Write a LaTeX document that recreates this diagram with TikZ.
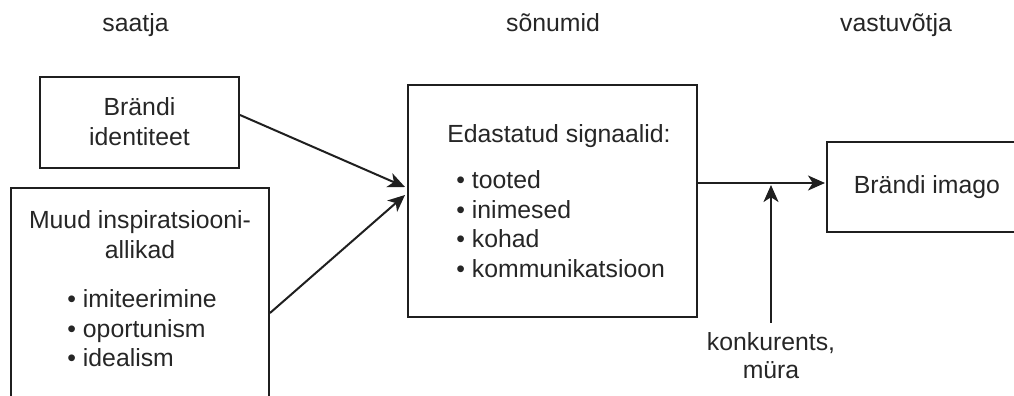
\documentclass[tikz,border=0pt]{standalone}
\usepackage{fontspec}
\setmainfont{Liberation Sans}
\usetikzlibrary{arrows.meta}
\begin{document}
\begin{tikzpicture}[x=0.5pt,y=-0.5pt,
  box/.style={draw=black!88,line width=1pt,minimum width=#1,inner sep=0pt},
  txt/.style={inner sep=0pt,anchor=base,text=black!85,font=\fontsize{12.4}{15}\selectfont},
  txtl/.style={txt,anchor=base west},
  arr/.style={draw=black!88,line width=1pt,-{Stealth[length=8.5pt,width=7.5pt,inset=2.4pt]}}]
\useasboundingbox (0,0) rectangle (1014,396);
\clip (0,0) rectangle (1014,396);
% headers
\node[txt] (h1) at (135.5,32) {saatja};
\node[txt] (h2) at (553,32) {sõnumid};
\node[txt] (h3) at (896,32) {vastuvõtja};
% boxes
\node[box=99.5pt,minimum height=45.5pt] (b1) at (139.5,122.5) {};
\node[box=129pt,minimum height=116pt] (b2) at (140,304) {};
\node[box=144.5pt,minimum height=116pt] (b3) at (552.5,201) {};
\node[box=106.5pt,minimum height=45pt] (b4) at (933.5,187) {};
% box texts
\node[txt] (t11) at (139.5,115) {Brändi};
\node[txt] (t12) at (139.5,145) {identiteet};
\node[txt] (t21) at (140,228) {Muud inspiratsiooni-};
\node[txt] (t22) at (140,258) {allikad};
\node[txtl] (t23) at (67,307) {• imiteerimine};
\node[txtl] (t24) at (67,337) {• oportunism};
\node[txtl] (t25) at (67,366) {• idealism};
\node[txt] (t31) at (559,142) {Edastatud signaalid:};
\node[txtl] (t32) at (456,188) {• tooted};
\node[txtl] (t33) at (456,218) {• inimesed};
\node[txtl] (t34) at (456,247) {• kohad};
\node[txtl] (t35) at (456,277) {• kommunikatsioon};
\node[txt] (t41) at (927,193) {Brändi imago};
\node[txt] (n1) at (771,350) {konkurents,};
\node[txt] (n2) at (771,378) {müra};
% connectors
\draw[arr] ([yshift=3.75pt]b1.east) -- ([xshift=-1pt,yshift=7pt]b3.west);
\draw[arr] ([yshift=-4.5pt]b2.east) -- ([xshift=-1pt,yshift=3pt]b3.west);
\coordinate (m1) at ([yshift=9pt]b3.east);
\draw[arr] (m1) -- ([xshift=-0.5pt]m1 -| b4.west);
\coordinate (n0) at ([yshift=4.5pt]n1.north);
\draw[arr] (n0) -- ([yshift=-1pt]n0 |- m1);
\end{tikzpicture}
\end{document}
